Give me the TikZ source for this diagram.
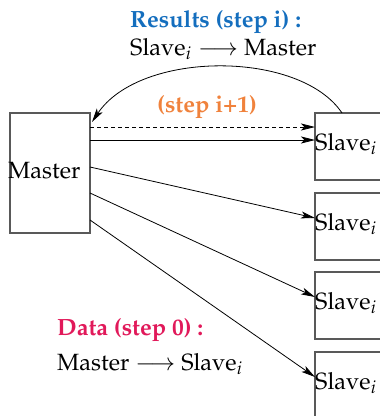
\documentclass[tikz,border=0pt]{standalone}
\usepackage[T1]{fontenc}
\usepackage{mathpazo}
\usetikzlibrary{arrows.meta}
\definecolor{resblue}{RGB}{20,110,190}
\definecolor{steporange}{RGB}{240,130,60}
\definecolor{datared}{RGB}{225,25,90}
\tikzset{
  box/.style={draw=black!65,line width=1.2pt},
  lbl/.style={inner sep=0pt,anchor=base west,font=\fontsize{23.5}{26}\selectfont},
  arr/.style={line width=0.8pt,-{Stealth[length=14pt,width=7pt,inset=3.5pt]}},
}
\begin{document}
\begin{tikzpicture}[x=1pt,y=-1pt]
\useasboundingbox (0,0) rectangle (380,416);
\clip (0,0) rectangle (380,416);
% boxes
\draw[box] (10,113) rectangle (90,233);
\node[lbl] (master) at (8,178) {Master};
\coordinate (m1) at (90,127);
\coordinate (m2) at (90,140);
\coordinate (m3) at (90,167);
\coordinate (m4) at (90,193);
\coordinate (m5) at (90,220);
\coordinate (mtop) at (92,122);
\foreach \t/\n in {113/1,193/2,272/3,352/4}{
  \draw[box] (315,\t) rectangle (420,\t+67);
  \node[lbl] (s\n) at (315,\t+37) {Slave$_i$};
}
\coordinate (a1) at (315,127);
\coordinate (a2) at (315,140);
\coordinate (a3) at (315,218);
\coordinate (a4) at (315,297);
\coordinate (a5) at (315,377);
\coordinate (stop) at (342,113);
% connectors
\draw[arr,dashed,dash pattern=on 4pt off 3pt] (m1) -- (a1);
\draw[arr] (m2) -- (a2);
\draw[arr] (m3) -- (a3);
\draw[arr] (m4) -- (a4);
\draw[arr] (m5) -- (a5);
\draw[arr] (stop) .. controls (300,50) and (140,50) .. (mtop);
% labels
\node[lbl,text=resblue] (res) at (130,27) {\bfseries Results (step i) :};
\node[lbl] (resflow) at (130,55) {Slave$_i\longrightarrow$ Master};
\node[lbl,text=steporange] (next) at (157,112) {\bfseries (step i+1)};
\node[lbl,text=datared] (data) at (57,335) {\bfseries Data (step 0) :};
\node[lbl] (dataflow) at (57,370) {Master $\longrightarrow$ Slave$_i$};
\end{tikzpicture}
\end{document}
